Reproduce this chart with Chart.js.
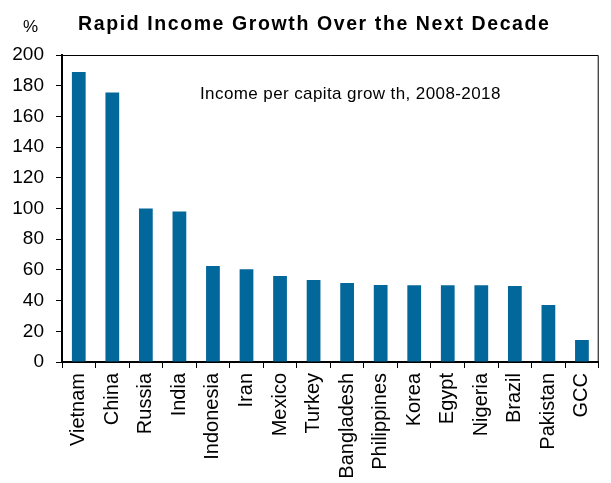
<!DOCTYPE html>
<html>
<head>
<meta charset="utf-8">
<script src="https://cdn.jsdelivr.net/npm/chart.js@4/dist/chart.umd.min.js"></script>
<style>
  html, body { margin: 0; padding: 0; background: #ffffff; }
  canvas { display: block; }
</style>
</head>
<body>
<canvas id="incomeChart" width="611" height="483"></canvas>
<script>
// income per capita growth 2008-2018, %
const paises = ["Vietnam", "China", "Russia", "India", "Indonesia", "Iran", "Mexico", "Turkey",
  "Bangladesh", "Philippines", "Korea", "Egypt", "Nigeria", "Brazil", "Pakistan", "GCC"];
const crecimiento = [189, 175.5, 100, 98, 62.5, 60.5, 56, 53.5, 51.5, 50.2, 50, 50, 50, 49.5, 37.2, 14.4];
const yTicks = [0, 20, 40, 60, 80, 100, 120, 140, 160, 180, 200];

const titulo = "Rapid Income Growth Over the Next Decade";
const nota = "Income per capita grow th, 2008-2018";
const fuente = "'Liberation Sans', Arial, sans-serif";

// title, unit label, note and the thin frame round the plot
const textosPlugin = {
  id: "textos",
  afterDraw(chart) {
    const ctx = chart.ctx;
    const area = chart.chartArea;
    ctx.save();
    ctx.fillStyle = "#000000";
    ctx.textBaseline = "alphabetic";
    ctx.textAlign = "left";

    ctx.font = "bold 19.5px " + fuente;
    ctx.letterSpacing = "1.6px";
    ctx.fillText(titulo, 78, 30);

    ctx.font = "17px " + fuente;
    ctx.letterSpacing = "0px";
    ctx.fillText("%", 23, 32);

    ctx.letterSpacing = "0.4px";
    ctx.fillText(nota, 200, 99);

    ctx.strokeStyle = "#000000";
    ctx.lineWidth = 1;
    ctx.beginPath();
    ctx.moveTo(area.left, area.top + 0.5);
    ctx.lineTo(area.right - 0.5, area.top + 0.5);
    ctx.lineTo(area.right - 0.5, area.bottom);
    ctx.stroke();
    ctx.restore();
  }
};

const ctx = document.getElementById("incomeChart").getContext("2d");
new Chart(ctx, {
  type: "bar",
  data: {
    labels: paises,
    datasets: [{
      data: crecimiento,
      backgroundColor: "#02679a",
      barPercentage: 0.82,
      categoryPercentage: 0.5
    }]
  },
  options: {
    responsive: false,
    animation: false,
    layout: { padding: { top: 55, right: 2, left: 0, bottom: 0 } },
    plugins: {
      legend: { display: false },
      tooltip: { enabled: false }
    },
    scales: {
      x: {
        afterFit(axis) { axis.height = 121; },
        grid: {
          offset: true,
          drawOnChartArea: false,
          drawTicks: true,
          tickLength: 6,
          color: "#000000",
          lineWidth: 1
        },
        border: { color: "#000000", width: 2 },
        ticks: {
          color: "#000000",
          font: { family: fuente, size: 20 },
          minRotation: 90,
          maxRotation: 90,
          autoSkip: false,
          padding: 5
        }
      },
      y: {
        min: 0,
        max: 200,
        afterFit(axis) { axis.width = 62; },
        afterBuildTicks(axis) { axis.ticks = yTicks.map(v => ({ value: v })); },
        grid: {
          drawOnChartArea: false,
          drawTicks: true,
          tickLength: 6,
          color: "#000000",
          lineWidth: 1
        },
        border: { color: "#000000", width: 2 },
        ticks: {
          color: "#000000",
          font: { family: fuente, size: 19 },
          padding: 12
        }
      }
    }
  },
  plugins: [textosPlugin]
});
</script>
</body>
</html>
